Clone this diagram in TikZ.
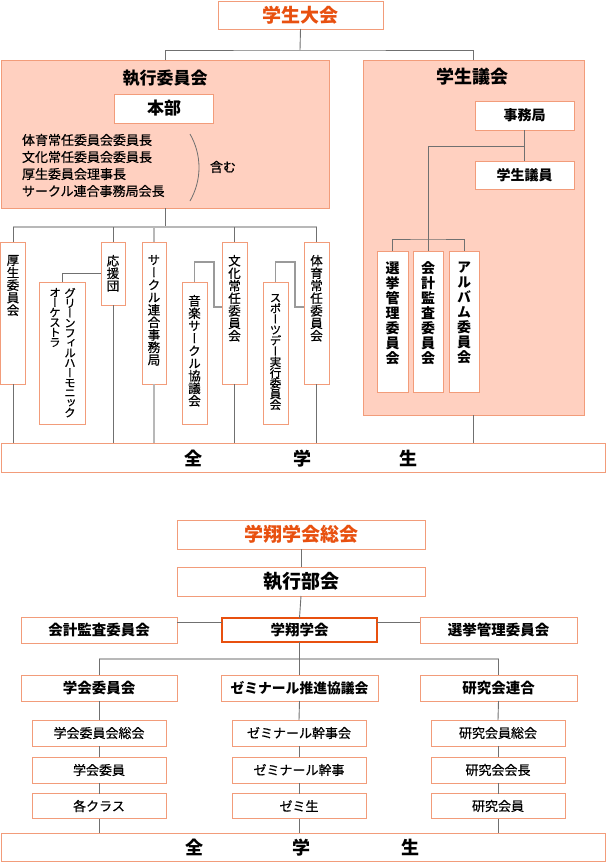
\documentclass[tikz,border=0pt]{standalone}
\usepackage{fontspec}
\setmainfont{Noto Sans CJK JP}
\newfontfamily\jpm{Noto Sans CJK JP}[FakeBold=0.6]
\newfontfamily\jpv{Noto Sans CJK JP}[RawFeature=+vert]
\newfontfamily\jpvm{Noto Sans CJK JP}[RawFeature=+vert,FakeBold=0.6]
\definecolor{salm}{HTML}{F29C7A}
\definecolor{salmfill}{HTML}{FFD0C0}
\definecolor{orng}{HTML}{E8500F}
\definecolor{dkg}{HTML}{707070}
\definecolor{ltg}{HTML}{B8B8B8}
\definecolor{mdg}{HTML}{9A9A9A}
\begin{document}
\begin{tikzpicture}[x=1pt,y=-1pt,
  box/.style={draw=salm,line width=1pt,fill=white,inner sep=0pt,outer sep=0pt},
  bigbox/.style={box,fill=salmfill},
  thickbox/.style={box,draw=orng,line width=2.6pt},
  ln/.style={draw=dkg,line width=0.9pt},
  lg/.style={draw=ltg,line width=2.2pt},
  mg/.style={draw=mdg,line width=1.3pt},
  txt/.style={inner sep=0pt,outer sep=0pt},
  big/.style={txt,font=\bfseries\fontsize{19}{19}\selectfont},
  mid/.style={txt,font=\bfseries\fontsize{17}{17}\selectfont},
  hd/.style={txt,font=\bfseries\fontsize{14.5}{14.5}\selectfont},
  sm/.style={txt,font=\jpm\fontsize{13}{13}\selectfont},
  vt/.style={txt,align=center,anchor=north,font=\jpvm\fontsize{12.5}{12.5}\selectfont},
  vtb/.style={txt,align=center,anchor=north,font=\jpv\bfseries\fontsize{14}{15}\selectfont}
]
\useasboundingbox (0,0) rectangle (606,862);

% ---------- top section ----------
\node[box,minimum width=165,minimum height=28] (taikai) at (300.5,15) {};
\node[big,text=orng] (taikai-t) at (300,15) {学生大会};

\node[bigbox,minimum width=328,minimum height=148] (shikko) at (165,134) {};
\node[mid] (shikko-t) at (165,78) {執行委員会};
\node[box,minimum width=99,minimum height=29] (honbu) at (163.5,108.5) {};
\node[mid] (honbu-t) at (164,108.5) {本部};
\node[txt,anchor=north west,align=left,font=\jpm\fontsize{13}{17}\selectfont] (list) at (22,134)
  {体育常任委員会委員長\\文化常任委員会委員長\\厚生委員会理事長\\サークル連合事務局会長};
\draw[ln,line width=0.8pt] (190,134) .. controls (202,155) and (202,180) .. (190,201);
\node[sm] (fukumu) at (223,167) {含む};

\node[bigbox,minimum width=221,minimum height=355] (gikai) at (473.5,237.5) {};
\node[mid,font=\bfseries\fontsize{18}{18}\selectfont] (gikai-t) at (472,77) {学生議会};
\node[box,minimum width=99,minimum height=29] (jimu) at (524.5,115.5) {};
\node[hd,font=\bfseries\fontsize{14}{14}\selectfont] (jimu-t) at (524.5,115.5) {事務局};
\node[box,minimum width=99,minimum height=28] (giin) at (524.5,175) {};
\node[hd,font=\bfseries\fontsize{14}{14}\selectfont] (giin-t) at (524.5,175) {学生議員};

\node[box,minimum width=31,minimum height=141] (senkyo) at (392.5,321.5) {};
\node[vtb] (senkyo-t) at (392.5,262) {選\\挙\\管\\理\\委\\員\\会};
\node[box,minimum width=30,minimum height=141] (kansa) at (428,321.5) {};
\node[vtb] (kansa-t) at (428,262) {会\\計\\監\\査\\委\\員\\会};
\node[box,minimum width=30,minimum height=141] (album) at (464,321.5) {};
\node[vtb] (album-t) at (464,262) {ア\\ル\\バ\\ム\\委\\員\\会};

% left vertical boxes
\node[box,minimum width=25,minimum height=142] (kosei) at (13,313) {};
\node[vt] (kosei-t) at (13,255) {厚\\生\\委\\員\\会};
\node[box,minimum width=24,minimum height=63] (oen) at (113,273.5) {};
\node[vt] (oen-t) at (113,255) {応\\援\\団};
\node[box,minimum width=46,minimum height=142] (green) at (62,353) {};
\node[vt,font=\jpvm\fontsize{11.5}{9.95}\selectfont] (green-t1) at (70,288) {グ\\リ\\ー\\ン\\フ\\ィ\\ル\\ハ\\ー\\モ\\ニ\\ッ\\ク};
\node[vt,font=\jpvm\fontsize{11.5}{9.95}\selectfont] (green-t2) at (55,288) {オ\\ー\\ケ\\ス\\ト\\ラ};
\node[box,minimum width=24,minimum height=142] (circle) at (154,313) {};
\node[vt] (circle-t) at (154,255) {サ\\ー\\ク\\ル\\連\\合\\事\\務\\局};
\node[box,minimum width=25,minimum height=142] (ongaku) at (194.5,353) {};
\node[vt] (ongaku-t) at (194.5,295) {音\\楽\\サ\\ー\\ク\\ル\\協\\議\\会};
\node[box,minimum width=25,minimum height=142] (bunka) at (234.5,313) {};
\node[vt] (bunka-t) at (234.5,255) {文\\化\\常\\任\\委\\員\\会};
\node[box,minimum width=25,minimum height=142] (sports) at (275.5,353) {};
\node[vt,font=\jpvm\fontsize{11.5}{10.7}\selectfont] (sports-t) at (275.5,294) {ス\\ポ\\ー\\ツ\\デ\\ー\\実\\行\\委\\員\\会};
\node[box,minimum width=25,minimum height=142] (taiiku) at (316.5,313) {};
\node[vt] (taiiku-t) at (316.5,255) {体\\育\\常\\任\\委\\員\\会};

\node[box,minimum width=604,minimum height=29] (zen1) at (303,457.5) {};
\node[big,font=\bfseries\fontsize{18}{18}\selectfont] (zen1-a) at (193,458.5) {全};
\node[big,font=\bfseries\fontsize{18}{18}\selectfont] (zen1-b) at (302,458.5) {学};
\node[big,font=\bfseries\fontsize{18}{18}\selectfont] (zen1-c) at (408,458.5) {生};

% top connectors
\coordinate (j1) at (300,50);
\draw[ln] (taikai.south) -- (j1);
\draw[ln] (shikko.north) |- (j1) -| (gikai.north);
\coordinate (bus1) at (165,227);
\draw[ln] (shikko.south) -- (bus1);
\draw[lg] (kosei.north |- bus1) -- (taiiku.north |- bus1);
\draw[ln] (kosei.north |- bus1) -- (kosei.north);
\draw[ln] (oen.north |- bus1) -- (oen.north);
\draw[lg] (circle.north |- bus1) -- (circle.north);
\draw[ln] (bunka.north |- bus1) -- (bunka.north);
\draw[ln] (taiiku.north |- bus1) -- (taiiku.north);
\draw[ln] (kosei.south) -- (kosei.south |- zen1.north);
\draw[ln] (oen.south) -- (oen.south |- zen1.north);
\draw[lg] (circle.south) -- (circle.south |- zen1.north);
\draw[ln] (bunka.south) -- (bunka.south |- zen1.north);
\draw[ln] (taiiku.south) -- (taiiku.south |- zen1.north);
\draw[ln] (gikai.south) -- (gikai.south |- zen1.north);
\draw[ln] (green.north) |- (oen.west);
\coordinate (m1) at (214,262);
\coordinate (m2) at (295,262);
\draw[mg] (ongaku.north) |- (m1) |- ([yshift=6pt]bunka.west);
\draw[mg] (sports.north) |- (m2) |- ([yshift=6pt]taiiku.west);
% gikai connectors
\draw[ln] (jimu.south) -- (giin.north);
\coordinate (g1) at (524.5,146);
\coordinate (g2) at (428,239);
\draw[ln] (g1) -| (g2);
\draw[ln] (senkyo.north) |- (g2) -| (album.north);
\draw[ln] (g2) -- (kansa.north);

% ---------- bottom section ----------
\node[box,minimum width=248,minimum height=29] (sokai) at (301,534.5) {};
\node[big,text=orng] (sokai-t) at (301,534.5) {学翔学会総会};
\node[box,minimum width=248,minimum height=29] (shikkobu) at (301,581.5) {};
\node[big] (shikkobu-t) at (301,581.5) {執行部会};
\node[box,minimum width=156,minimum height=26] (kaikei2) at (99,630) {};
\node[hd] (kaikei2-t) at (99,630) {会計監査委員会};
\node[thickbox,minimum width=155,minimum height=24] (gakusho) at (299.5,630) {};
\node[hd] (gakusho-t) at (299.5,630) {学翔学会};
\node[box,minimum width=157,minimum height=26] (senkyo2) at (498.5,630) {};
\node[hd] (senkyo2-t) at (498.5,630) {選挙管理委員会};

\node[box,minimum width=156,minimum height=26] (iinkai) at (99,688) {};
\node[hd] (iinkai-t) at (99,688) {学会委員会};
\node[box,minimum width=157,minimum height=26] (zemi) at (299.5,688) {};
\node[hd,font=\bfseries\fontsize{13.8}{14}\selectfont] (zemi-t) at (299.5,688) {ゼミナール推進協議会};
\node[box,minimum width=157,minimum height=26] (kenkyu) at (498.5,688) {};
\node[hd] (kenkyu-t) at (498.5,688) {研究会連合};

\node[box,minimum width=134,minimum height=26] (a1) at (99,733) {};
\node[sm] (a1-t) at (99,733) {学会委員会総会};
\node[box,minimum width=134,minimum height=26] (a2) at (99,770) {};
\node[sm] (a2-t) at (99,770) {学会委員};
\node[box,minimum width=134,minimum height=25] (a3) at (99,806) {};
\node[sm] (a3-t) at (99,806) {各クラス};

\node[box,minimum width=134,minimum height=26] (b1) at (299,733) {};
\node[sm] (b1-t) at (299,733) {ゼミナール幹事会};
\node[box,minimum width=134,minimum height=26] (b2) at (299,770) {};
\node[sm] (b2-t) at (299,770) {ゼミナール幹事};
\node[box,minimum width=134,minimum height=25] (b3) at (299,806) {};
\node[sm] (b3-t) at (299,806) {ゼミ生};

\node[box,minimum width=134,minimum height=26] (c1) at (498,733) {};
\node[sm] (c1-t) at (498,733) {研究会員総会};
\node[box,minimum width=134,minimum height=26] (c2) at (498,770) {};
\node[sm] (c2-t) at (498,770) {研究会会長};
\node[box,minimum width=134,minimum height=25] (c3) at (498,806) {};
\node[sm] (c3-t) at (498,806) {研究会員};

\node[box,minimum width=604,minimum height=28] (zen2) at (303,847) {};
\node[big,font=\bfseries\fontsize{18}{18}\selectfont] (zen2-a) at (194,847.5) {全};
\node[big,font=\bfseries\fontsize{18}{18}\selectfont] (zen2-b) at (301,847.5) {学};
\node[big,font=\bfseries\fontsize{18}{18}\selectfont] (zen2-c) at (410,847.5) {生};

% bottom connectors
\draw[ln] (sokai.south) -- (shikkobu.north);
\draw[ln] (shikkobu.south) -- (gakusho.north);
\draw[ln] ([yshift=8pt]kaikei2.east) -- ([yshift=8pt]gakusho.west);
\draw[ln] ([yshift=8pt]gakusho.east) -- ([yshift=8pt]senkyo2.west);
\coordinate (bus2) at (300,659);
\draw[lg] (iinkai.north |- bus2) -- (kenkyu.north |- bus2);
\draw[ln] (gakusho.south) -- (zemi.north);
\draw[ln] (iinkai.north |- bus2) -- (iinkai.north);
\draw[ln] (kenkyu.north |- bus2) -- (kenkyu.north);
\foreach \p/\q in {iinkai/a1,a1/a2,a2/a3,zemi/b1,b1/b2,b2/b3,kenkyu/c1,c1/c2,c2/c3}{
  \draw[ln] (\p.south) -- (\q.north);
}
\draw[ln] (a3.south) -- (a3.south |- zen2.north);
\draw[ln] (b3.south) -- (b3.south |- zen2.north);
\draw[ln] (c3.south) -- (c3.south |- zen2.north);
\end{tikzpicture}
\end{document}
